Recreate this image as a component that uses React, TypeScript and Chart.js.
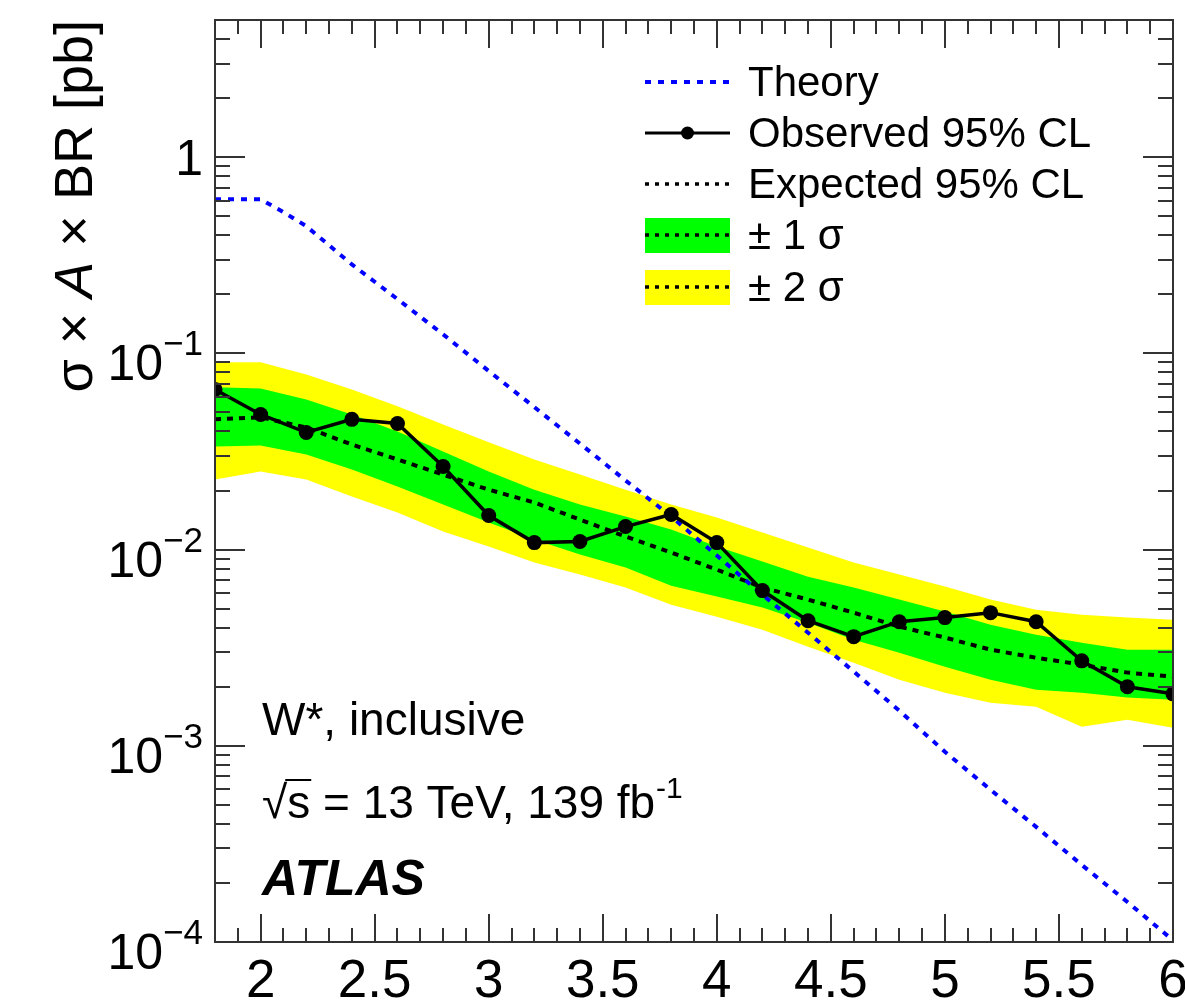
import React, { useEffect, useRef } from 'react';
import { Chart, registerables } from 'chart.js';

Chart.register(...registerables);

// ---- data (mass in TeV, cross-section x acceptance x BR in pb) ----
const masses = [1.8, 2.0, 2.2, 2.4, 2.6, 2.8, 3.0, 3.2, 3.4, 3.6, 3.8, 4.0, 4.2, 4.4, 4.6, 4.8, 5.0, 5.2, 5.4, 5.6, 5.8, 6.0];
const observed = [0.0655, 0.0488, 0.0395, 0.0461, 0.0439, 0.0265, 0.01491, 0.01085, 0.011, 0.0131, 0.0151, 0.01085, 0.00618, 0.00434, 0.0036, 0.00429, 0.0045, 0.00477, 0.00429, 0.00271, 0.002, 0.00184];
const expected = [0.0461, 0.0472, 0.0419, 0.0343, 0.0288, 0.0241, 0.0202, 0.01737, 0.01422, 0.01165, 0.00966, 0.0079, 0.0064, 0.00556, 0.00477, 0.00405, 0.00356, 0.00309, 0.00281, 0.00259, 0.00236, 0.00225];
const plus1 = [0.0671, 0.0663, 0.0582, 0.0488, 0.04, 0.0316, 0.025, 0.0202, 0.01697, 0.01474, 0.01265, 0.01036, 0.00869, 0.00728, 0.0064, 0.00556, 0.00483, 0.00414, 0.00368, 0.00335, 0.00309, 0.00309];
const minus1 = [0.0335, 0.0339, 0.0305, 0.0256, 0.02097, 0.01697, 0.01373, 0.01125, 0.00943, 0.0081, 0.00655, 0.00576, 0.00506, 0.00424, 0.00347, 0.00298, 0.00253, 0.00217, 0.00193, 0.001864, 0.00176, 0.001717];
const plus2 = [0.09, 0.09, 0.0781, 0.0655, 0.0537, 0.0434, 0.0352, 0.0288, 0.0241, 0.0202, 0.01697, 0.01457, 0.01221, 0.01024, 0.00859, 0.00746, 0.00648, 0.00556, 0.00494, 0.00466, 0.0045, 0.00439];
const minus2 = [0.02276, 0.025, 0.02276, 0.01864, 0.01544, 0.01235, 0.01036, 0.00859, 0.00746, 0.0064, 0.00524, 0.00455, 0.0039, 0.0032, 0.00265, 0.00217, 0.001864, 0.001657, 0.00158, 0.00125, 0.001357, 0.001236];
const theoryMass = [1.8, 2.0, 2.1, 2.2, 2.4, 2.6, 2.8, 3.0, 3.2, 3.4, 3.6, 3.8, 4.0, 4.2, 4.4, 4.6, 4.8, 5.0, 5.2, 5.4, 5.6, 5.8, 6.0];
const theory = [0.61, 0.61, 0.525, 0.445, 0.284, 0.189, 0.125, 0.0813, 0.0532, 0.0347, 0.0225, 0.01473, 0.00932, 0.00589, 0.00377, 0.00239, 0.00151, 0.000932, 0.000597, 0.000386, 0.000247, 0.00016, 0.000102];

const xTickValues = [2, 2.5, 3, 3.5, 4, 4.5, 5, 5.5, 6];
const xTickLabels = ['2', '2.5', '3', '3.5', '4', '4.5', '5', '5.5', '6'];
const yTickValues = [1, 0.1, 0.01, 0.001, 0.0001];
const yTickBase = ['1', '10', '10', '10', '10'];
const yTickExp = ['', '\u22121', '\u22122', '\u22123', '\u22124'];

const legendLabels = ['Theory', 'Observed 95% CL', 'Expected 95% CL', '\u00b1 1 \u03c3', '\u00b1 2 \u03c3'];

const X_MIN = 1.8;
const X_MAX = 6.0;
const Y_MIN = 1e-4;
const Y_MAX = 5;

const GREEN = '#00ff00';
const YELLOW = '#ffff00';
const BLUE = '#0000ff';
const AXIS = '#333333';
const FONT = '"Liberation Sans", Arial, Helvetica, sans-serif';

const pts = (xs: number[], ys: number[]) => xs.map((x, i) => ({ x, y: ys[i] }));

const axisPlugin = {
  id: 'rootAxes',
  afterDraw(chart: any) {
    const { ctx, chartArea } = chart;
    const { left, right, top, bottom } = chartArea;
    const xs = chart.scales.x;
    const ys = chart.scales.y;
    ctx.save();

    // frame
    ctx.strokeStyle = AXIS;
    ctx.lineWidth = 2;
    ctx.setLineDash([]);
    ctx.strokeRect(left, top, right - left, bottom - top);

    // x ticks (major every 0.5, minor every 0.1), bottom and top
    ctx.beginPath();
    for (let i = Math.round(X_MIN * 10); i <= Math.round(X_MAX * 10); i++) {
      const px = Math.round(xs.getPixelForValue(i / 10));
      const len = i % 5 === 0 ? 28 : 14;
      ctx.moveTo(px, bottom);
      ctx.lineTo(px, bottom - len);
      ctx.moveTo(px, top);
      ctx.lineTo(px, top + len);
    }
    // y ticks (log), left and right
    for (let e = -4; e <= 0; e++) {
      for (let m = 1; m <= 9; m++) {
        const v = m * Math.pow(10, e);
        if (v > Y_MAX * 1.0001 || v < Y_MIN * 0.9999) continue;
        const py = Math.round(ys.getPixelForValue(v));
        const len = m === 1 ? 30 : 15;
        ctx.moveTo(left, py);
        ctx.lineTo(left + len, py);
        ctx.moveTo(right, py);
        ctx.lineTo(right - len, py);
      }
    }
    ctx.stroke();

    // x tick labels
    ctx.fillStyle = '#000';
    ctx.font = `53px ${FONT}`;
    ctx.textAlign = 'center';
    ctx.textBaseline = 'alphabetic';
    xTickValues.forEach((v, i) => {
      const px = xs.getPixelForValue(v);
      ctx.fillText(xTickLabels[i], px, 997);
    });

    // y tick labels
    const labelRight = 203;
    yTickValues.forEach((v, i) => {
      const py = ys.getPixelForValue(v);
      if (yTickExp[i] === '') {
        ctx.font = `50px ${FONT}`;
        ctx.textAlign = 'right';
        ctx.fillText(yTickBase[i], labelRight, py + 18);
      } else {
        ctx.font = `35px ${FONT}`;
        ctx.textAlign = 'right';
        const sw = ctx.measureText(yTickExp[i]).width;
        ctx.fillText(yTickExp[i], labelRight, py + 2);
        ctx.font = `50px ${FONT}`;
        ctx.fillText(yTickBase[i], labelRight - sw, py + 27);
      }
    });

    // y axis title (rotated), right-aligned to the top of the axis
    ctx.save();
    ctx.translate(77, top);
    ctx.rotate(-Math.PI / 2);
    ctx.textBaseline = 'middle';
    ctx.textAlign = 'left';
    const parts: [string, string][] = [
      ['\u03c3 \u00d7 ', `54px ${FONT}`],
      ['A', `italic 54px ${FONT}`],
      [' \u00d7 BR [pb]', `54px ${FONT}`],
    ];
    let total = 0;
    parts.forEach(([t, f]) => { ctx.font = f; total += ctx.measureText(t).width; });
    let cx = -total;
    parts.forEach(([t, f]) => {
      ctx.font = f;
      ctx.fillText(t, cx, 0);
      cx += ctx.measureText(t).width;
    });
    ctx.restore();

    // legend
    const symL = 645;
    const symR = 730;
    const textX = 748;
    const rows = [82, 133, 184, 235, 287];
    ctx.textAlign = 'left';
    ctx.textBaseline = 'middle';
    ctx.font = `42px ${FONT}`;
    // Theory
    ctx.strokeStyle = BLUE;
    ctx.lineWidth = 4;
    ctx.setLineDash([6, 7]);
    ctx.beginPath();
    ctx.moveTo(symL, rows[0]);
    ctx.lineTo(symR, rows[0]);
    ctx.stroke();
    // Observed
    ctx.setLineDash([]);
    ctx.strokeStyle = '#000';
    ctx.lineWidth = 3;
    ctx.beginPath();
    ctx.moveTo(symL, rows[1]);
    ctx.lineTo(symR, rows[1]);
    ctx.stroke();
    ctx.fillStyle = '#000';
    ctx.beginPath();
    ctx.arc((symL + symR) / 2, rows[1], 6.5, 0, Math.PI * 2);
    ctx.fill();
    // Bands
    ctx.fillStyle = GREEN;
    ctx.fillRect(symL, rows[3] - 17, symR - symL, 35);
    ctx.fillStyle = YELLOW;
    ctx.fillRect(symL, rows[4] - 17, symR - symL, 35);
    // Expected dotted lines
    ctx.strokeStyle = '#000';
    ctx.lineWidth = 3.5;
    ctx.setLineDash([4, 6]);
    [2, 3, 4].forEach((r) => {
      ctx.beginPath();
      ctx.moveTo(symL, rows[r]);
      ctx.lineTo(symR, rows[r]);
      ctx.stroke();
    });
    ctx.setLineDash([]);
    ctx.fillStyle = '#000';
    legendLabels.forEach((t, i) => ctx.fillText(t, textX, rows[i] + 2));

    // annotations
    ctx.textBaseline = 'alphabetic';
    ctx.font = `46px ${FONT}`;
    ctx.fillText('W*, inclusive', 262, 735);

    // sqrt(s) = 13 TeV, 139 fb^-1
    let ax = 262;
    const base = 818;
    ctx.font = `46px ${FONT}`;
    ctx.fillText('\u221a', ax, base);
    const rw = ctx.measureText('\u221a').width;
    ax += rw;
    const sW = ctx.measureText('s').width;
    ctx.fillText('s', ax, base);
    ctx.lineWidth = 2;
    ctx.beginPath();
    ctx.moveTo(ax - 2, base - 38);
    ctx.lineTo(ax + sW + 1, base - 38);
    ctx.stroke();
    ax += sW;
    const mainTxt = ' = 13 TeV, 139 fb';
    ctx.fillText(mainTxt, ax, base);
    ax += ctx.measureText(mainTxt).width;
    ctx.font = `30px ${FONT}`;
    ctx.fillText('-1', ax + 1, base - 20);

    ctx.font = `bold italic 50px ${FONT}`;
    ctx.fillText('ATLAS', 262, 895);

    ctx.restore();
  },
};

export default function App() {
  const ref = useRef<HTMLCanvasElement>(null);

  useEffect(() => {
    document.body.style.margin = '0';
    const canvas = ref.current;
    if (!canvas) return;
    const chart = new Chart(canvas, {
      type: 'line',
      data: {
        datasets: [
          {
            label: '+2 sigma',
            data: pts(masses, plus2),
            fill: '+1',
            backgroundColor: YELLOW,
            borderColor: 'rgba(0,0,0,0)',
            borderWidth: 0,
            pointRadius: 0,
            order: 6,
            clip: 0,
          } as any,
          {
            label: '-2 sigma',
            data: pts(masses, minus2),
            fill: false,
            borderColor: 'rgba(0,0,0,0)',
            borderWidth: 0,
            pointRadius: 0,
            order: 5,
            clip: 0,
          },
          {
            label: '+1 sigma',
            data: pts(masses, plus1),
            fill: '+1',
            backgroundColor: GREEN,
            borderColor: 'rgba(0,0,0,0)',
            borderWidth: 0,
            pointRadius: 0,
            order: 4,
            clip: 0,
          },
          {
            label: '-1 sigma',
            data: pts(masses, minus1),
            fill: false,
            borderColor: 'rgba(0,0,0,0)',
            borderWidth: 0,
            pointRadius: 0,
            order: 3,
            clip: 0,
          },
          {
            label: 'Expected 95% CL',
            data: pts(masses, expected),
            fill: false,
            borderColor: '#000',
            borderWidth: 4,
            borderDash: [6, 6],
            pointRadius: 0,
            order: 2,
            clip: 0,
          },
          {
            label: 'Theory',
            data: pts(theoryMass, theory),
            fill: false,
            borderColor: BLUE,
            borderWidth: 4,
            borderDash: [6, 7],
            pointRadius: 0,
            order: 1,
            clip: 0,
          },
          {
            label: 'Observed 95% CL',
            data: pts(masses, observed),
            fill: false,
            borderColor: '#000',
            borderWidth: 3.5,
            pointRadius: 7.5,
            pointBackgroundColor: '#000',
            pointBorderColor: '#000',
            pointBorderWidth: 0,
            order: 0,
            clip: 0,
          },
        ],
      },
      options: {
        responsive: false,
        animation: false,
        events: [],
        layout: { padding: { left: 215, right: 12, top: 20, bottom: 58 } },
        elements: { line: { tension: 0 } },
        scales: {
          x: { type: 'linear', min: X_MIN, max: X_MAX, display: false },
          y: { type: 'logarithmic', min: Y_MIN, max: Y_MAX, display: false },
        },
        plugins: {
          legend: { display: false },
          tooltip: { enabled: false },
        },
      },
      plugins: [axisPlugin],
    });
    return () => chart.destroy();
  }, []);

  return <canvas ref={ref} width={1185} height={1000} style={{ display: 'block' }} />;
}
